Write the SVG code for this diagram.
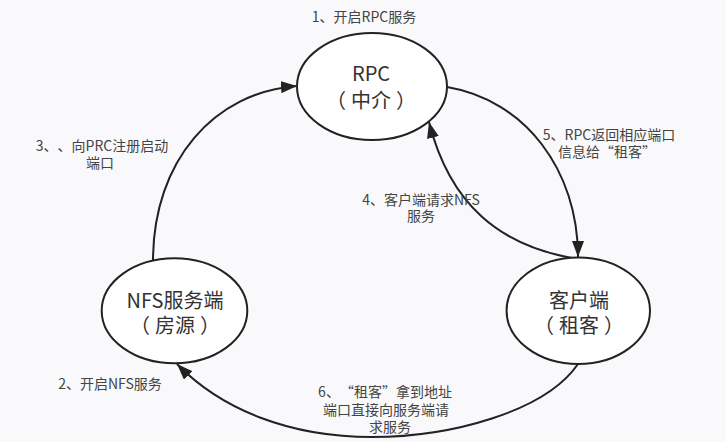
<svg xmlns="http://www.w3.org/2000/svg" width="726" height="442" viewBox="0 0 726 442">
<style>
.bg{fill:#f9f9fb}
.node{fill:#ffffff;stroke:#222222;stroke-width:2}
text{text-spacing-trim:space-all}
.ntext{font-family:"Noto Sans CJK SC","Noto Sans",sans-serif;font-size:20px;fill:#333333;text-anchor:middle}
.lbl{font-family:"Noto Sans CJK SC","Noto Sans",sans-serif;font-size:14px;fill:#444444;text-anchor:middle}
.edge{fill:none;stroke:#222222;stroke-width:2;marker-end:url(#arrow)}
</style>
<defs>
<marker id="arrow" markerUnits="userSpaceOnUse" markerWidth="17" markerHeight="12" refX="16" refY="6" orient="auto">
<path d="M0,0 L16,6 L0,12 z" fill="#222222"/>
</marker>
</defs>
<rect class="bg" x="0" y="0" width="726" height="442"/>
<g id="connectors">
<path class="edge" d="M153,261 C153,160 215,92 297,86"/>
<path class="edge" d="M447,87 C525,100 578,170 578,257"/>
<path class="edge" d="M572,258 C500,245 450,205 429,122"/>
<path class="edge" d="M578,364 C545,412 450,437 372,437 C290,437 222,410 177,364"/>
</g>
<g id="node-rpc">
<ellipse class="node" cx="372" cy="86.5" rx="75" ry="53.5"/>
<text class="ntext" x="371" y="81">RPC</text>
<text class="ntext" x="371" y="108">（<tspan dx="5">中介</tspan><tspan dx="5">）</tspan></text>
</g>
<g id="node-nfs">
<ellipse class="node" cx="174.5" cy="310.8" rx="72.8" ry="52.5"/>
<text class="ntext" x="175" y="308">NFS服务端</text>
<text class="ntext" x="175" y="333">（<tspan dx="5">房源</tspan><tspan dx="5">）</tspan></text>
</g>
<g id="node-client">
<ellipse class="node" cx="578.3" cy="310.7" rx="71.7" ry="53.3"/>
<text class="ntext" x="579" y="308">客户端</text>
<text class="ntext" x="579" y="333">（<tspan dx="5">租客</tspan><tspan dx="5">）</tspan></text>
</g>
<g id="labels">
<text class="lbl" x="364" y="22">1、开启RPC服务</text>
<text class="lbl" x="102" y="151">3、、向PRC注册启动</text>
<text class="lbl" x="100" y="168">端口</text>
<text class="lbl" x="421" y="205">4、客户端请求NFS</text>
<text class="lbl" x="421" y="221">服务</text>
<text class="lbl" x="609" y="140">5、RPC返回相应端口</text>
<text class="lbl" x="607" y="157">信息给“租客”</text>
<text class="lbl" x="110" y="389">2、开启NFS服务</text>
<text class="lbl" x="385" y="397">6、“租客”拿到地址</text>
<text class="lbl" x="386" y="415">端口直接向服务端请</text>
<text class="lbl" x="390" y="432">求服务</text>
</g>
</svg>
